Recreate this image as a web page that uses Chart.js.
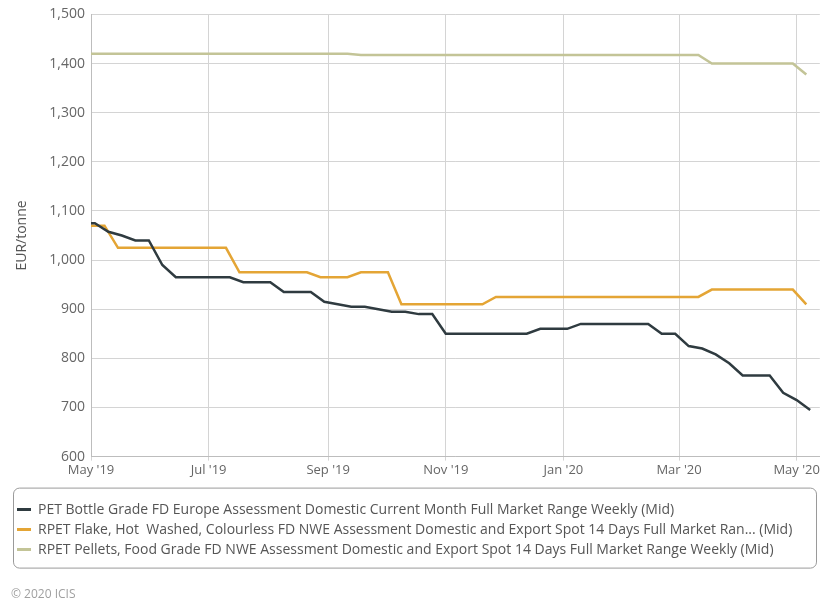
<!DOCTYPE html>
<html>
<head>
<meta charset="utf-8">
<script src="https://cdn.jsdelivr.net/npm/chart.js@4.4.1/dist/chart.umd.min.js"></script>
<style>
  html, body { margin: 0; padding: 0; background: #fff; }
</style>
</head>
<body>
<canvas id="priceChart" width="822" height="604"></canvas>
<script>
const seriesNames = [
    'PET Bottle Grade FD Europe Assessment Domestic Current Month Full Market Range Weekly (Mid)',
    'RPET Flake, Hot  Washed, Colourless FD NWE Assessment Domestic and Export Spot 14 Days Full Market Ran... (Mid)',
    'RPET Pellets, Food Grade FD NWE Assessment Domestic and Export Spot 14 Days Full Market Range Weekly (Mid)'
];

// PET bottle is assessed on Fridays, the RPET grades on Wednesdays
const petDates = [
    '2019-04-26', '2019-05-03', '2019-05-10', '2019-05-17', '2019-05-24', '2019-05-31',
    '2019-06-07', '2019-06-14', '2019-06-21', '2019-06-28', '2019-07-05', '2019-07-12',
    '2019-07-19', '2019-07-26', '2019-08-02', '2019-08-09', '2019-08-16', '2019-08-23',
    '2019-08-30', '2019-09-06', '2019-09-13', '2019-09-20', '2019-09-27', '2019-10-04',
    '2019-10-11', '2019-10-18', '2019-10-25', '2019-11-01', '2019-11-08', '2019-11-15',
    '2019-11-22', '2019-11-29', '2019-12-06', '2019-12-13', '2019-12-20', '2019-12-27',
    '2020-01-03', '2020-01-10', '2020-01-17', '2020-01-24', '2020-01-31', '2020-02-07',
    '2020-02-14', '2020-02-21', '2020-02-28', '2020-03-06', '2020-03-13', '2020-03-20',
    '2020-03-27', '2020-04-03', '2020-04-10', '2020-04-17', '2020-04-24', '2020-05-01',
    '2020-05-08'
];
const rpetDates = [
    '2019-05-01', '2019-05-08', '2019-05-15', '2019-05-22', '2019-05-29', '2019-06-05',
    '2019-06-12', '2019-06-19', '2019-06-26', '2019-07-03', '2019-07-10', '2019-07-17',
    '2019-07-24', '2019-07-31', '2019-08-07', '2019-08-14', '2019-08-21', '2019-08-28',
    '2019-09-04', '2019-09-11', '2019-09-18', '2019-09-25', '2019-10-02', '2019-10-09',
    '2019-10-16', '2019-10-23', '2019-10-30', '2019-11-06', '2019-11-13', '2019-11-20',
    '2019-11-27', '2019-12-04', '2019-12-11', '2019-12-18', '2019-12-25', '2020-01-01',
    '2020-01-08', '2020-01-15', '2020-01-22', '2020-01-29', '2020-02-05', '2020-02-12',
    '2020-02-19', '2020-02-26', '2020-03-04', '2020-03-11', '2020-03-18', '2020-03-25',
    '2020-04-01', '2020-04-08', '2020-04-15', '2020-04-22', '2020-04-29', '2020-05-06'
];

const petBottle = [
    1075, 1075, 1057.5, 1050, 1040, 1040, 990, 965, 965, 965, 965, 965,
    955, 955, 955, 935, 935, 935, 915, 910, 905, 905, 900, 895,
    895, 890, 890, 850, 850, 850, 850, 850, 850, 850, 860, 860,
    860, 870, 870, 870, 870, 870, 870, 850, 850, 825, 820, 808,
    790, 765, 765, 765, 730, 715, 695
];
const rpetFlake = [
    1070, 1070, 1025, 1025, 1025, 1025, 1025, 1025, 1025, 1025, 1025, 975,
    975, 975, 975, 975, 975, 965, 965, 965, 975, 975, 975, 910,
    910, 910, 910, 910, 910, 910, 925, 925, 925, 925, 925, 925,
    925, 925, 925, 925, 925, 925, 925, 925, 925, 925, 940, 940,
    940, 940, 940, 940, 940, 910
];
const rpetPellets = [
    1420, 1420, 1420, 1420, 1420, 1420, 1420, 1420, 1420, 1420, 1420, 1420,
    1420, 1420, 1420, 1420, 1420, 1420, 1420, 1420, 1417.5, 1417.5, 1417.5, 1417.5,
    1417.5, 1417.5, 1417.5, 1417.5, 1417.5, 1417.5, 1417.5, 1417.5, 1417.5, 1417.5, 1417.5, 1417.5,
    1417.5, 1417.5, 1417.5, 1417.5, 1417.5, 1417.5, 1417.5, 1417.5, 1417.5, 1417.5, 1400, 1400,
    1400, 1400, 1400, 1400, 1400, 1377.5
];

const tickDates = ['2019-05-01', '2019-07-01', '2019-09-01', '2019-11-01', '2020-01-01', '2020-03-01', '2020-05-01'];
const tickLabels = ["May '19", "Jul '19", "Sep '19", "Nov '19", "Jan '20", "Mar '20", "May '20"];

const axisStart = Date.UTC(2019, 4, 1);

function dayOffset(s) {
    const [y, m, d] = s.split('-').map(Number);
    return (Date.UTC(y, m - 1, d) - axisStart) / 86400000;
}

function toPoints(dates, values) {
    return values.map((v, i) => ({ x: dayOffset(dates[i]), y: v }));
}

// rounded frame around the legend, like the original
const legendFrame = {
    id: 'legendFrame',
    afterDraw(chart) {
        const legend = chart.legend;
        const ctx = chart.ctx;
        ctx.save();
        ctx.strokeStyle = '#9a9a9a';
        ctx.lineWidth = 1;
        ctx.beginPath();
        ctx.roundRect(13.5, legend.top - 8.5, 803, 80, 6);
        ctx.stroke();
        ctx.restore();
    }
};

Chart.defaults.font.family = "'Open Sans', sans-serif";

const ctx = document.getElementById('priceChart').getContext('2d');
new Chart(ctx, {
    type: 'line',
    data: {
        datasets: [{
            label: seriesNames[0],
            data: toPoints(petDates, petBottle),
            borderColor: '#2f3b40',
            backgroundColor: '#2f3b40'
        }, {
            label: seriesNames[1],
            data: toPoints(rpetDates, rpetFlake),
            borderColor: '#e4a535',
            backgroundColor: '#e4a535'
        }, {
            label: seriesNames[2],
            data: toPoints(rpetDates, rpetPellets),
            borderColor: '#c3c497',
            backgroundColor: '#c3c497'
        }]
    },
    options: {
        responsive: false,
        animation: false,
        layout: {
            padding: { top: 10, left: 11, right: 2, bottom: 2 }
        },
        elements: {
            point: { radius: 0 },
            line: { borderWidth: 2.5, tension: 0 }
        },
        scales: {
            x: {
                type: 'linear',
                min: 0,
                max: 378,
                afterBuildTicks: scale => {
                    scale.ticks = tickDates.map(d => ({ value: dayOffset(d) }));
                },
                afterFit: scale => {
                    scale.height = 40;
                },
                ticks: {
                    autoSkip: false,
                    maxRotation: 0,
                    padding: 2,
                    color: '#666',
                    font: { size: 13 },
                    callback: (value, index) => tickLabels[index]
                },
                grid: { color: '#d4d4d4', tickLength: 4 },
                border: { color: '#bdbdbd' }
            },
            y: {
                min: 600,
                max: 1500,
                afterFit: scale => {
                    scale.width = 80;
                },
                ticks: {
                    stepSize: 100,
                    padding: 6,
                    color: '#666',
                    font: { size: 14 },
                    callback: value => value.toLocaleString('en-US')
                },
                grid: { color: '#d4d4d4', drawTicks: false },
                border: { color: '#bdbdbd' },
                title: {
                    display: true,
                    text: 'EUR/tonne',
                    color: '#555',
                    font: { size: 14 },
                    padding: { top: 3, bottom: 0 }
                }
            }
        },
        plugins: {
            legend: {
                position: 'bottom',
                align: 'start',
                labels: {
                    boxWidth: 14,
                    boxHeight: 3,
                    padding: 6,
                    color: '#555',
                    font: { size: 14 },
                    generateLabels: chart => Chart.defaults.plugins.legend.labels.generateLabels(chart)
                        .map(item => ({ ...item, lineWidth: 0 }))
                }
            },
            title: {
                display: true,
                position: 'bottom',
                align: 'start',
                text: '\u00a9 2020 ICIS',
                color: '#a0a0a0',
                font: { size: 12, weight: 'normal' },
                padding: { top: 21, bottom: 0 }
            },
            tooltip: { enabled: false }
        }
    },
    plugins: [legendFrame]
});
</script>
</body>
</html>
